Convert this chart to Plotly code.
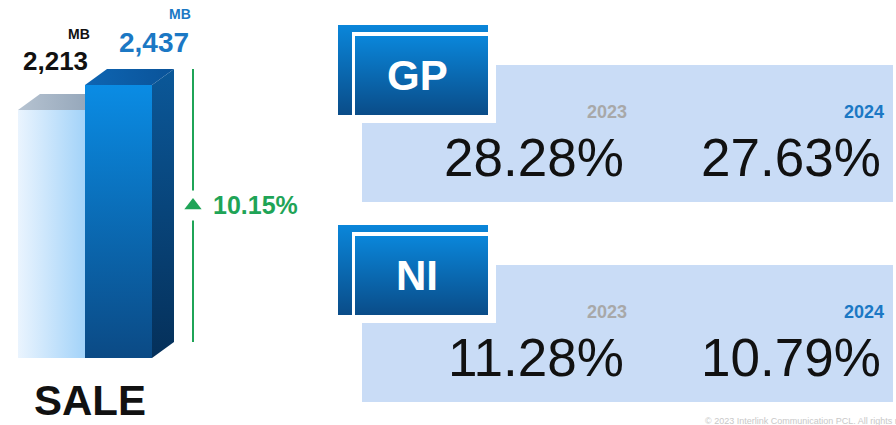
import plotly.graph_objects as go

# ---------------- data ----------------
years = ["2023", "2024"]
sale_mb = [2213, 2437]
sale_growth_pct = 10.15
metric_names = ["GP", "NI"]
gp_margin_pct = [28.28, 27.63]
ni_margin_pct = [11.28, 10.79]
unit_label = "MB"
sale_label = "SALE"
copyright_text = "© 2023 Interlink Communication PCL. All rights reserved."

metric_values = [gp_margin_pct, ni_margin_pct]

# ---------------- layout constants ----------------
W, H = 896, 425
BASE_PX = 358            # pixel row of the bar baseline
PX_PER_MB = 273 / 2437   # vertical scale
BAR_PX = 67              # bar width in px
LEFT_PX = 18             # left edge of first bar
DEPTH_X_PX, DEPTH_Y_PX = 22, 16

FONT = "Arial, Liberation Sans, Helvetica, sans-serif"
GREEN = "#1fa457"
BLUE_TXT = "#1b78c4"
PANEL = "#c9dcf6"

xr = [-LEFT_PX / BAR_PX, (W - LEFT_PX) / BAR_PX]
yr = [-(H - BASE_PX) / PX_PER_MB, BASE_PX / PX_PER_MB]
dx = DEPTH_X_PX / BAR_PX
dy = DEPTH_Y_PX / PX_PER_MB

bar_styles = [
    dict(front=("horizontal", ["#eaf4fe", "#a3d3f9"]),
         top=("horizontal", ["#b6c3d1", "#8c9fb4"]),
         side=("vertical", ["#8cc3ee", "#a9d5f8"])),
    dict(front=("vertical", ["#0b4a85", "#0a8ce4"]),
         top=("horizontal", ["#0e65b2", "#0a5399"]),
         side=("vertical", ["#05305a", "#0b5899"])),
]

fig = go.Figure()


def poly(xs, ys, grad, xa="x", ya="y", start=None, stop=None):
    g = dict(type=grad[0], colorscale=[[0, grad[1][0]], [1, grad[1][1]]])
    if start is not None:
        g["start"] = start
        g["stop"] = stop
    fig.add_trace(go.Scatter(
        x=xs + [xs[0]], y=ys + [ys[0]], mode="lines", fill="toself",
        line=dict(width=0), fillgradient=g, hoverinfo="skip",
        showlegend=False, xaxis=xa, yaxis=ya))


# ---------------- 3D bars (data axes) ----------------
for i, (v, st) in enumerate(zip(sale_mb, bar_styles)):
    poly([i, i + 1, i + 1, i], [0, 0, v, v], st["front"])
    poly([i, i + dx, i + 1 + dx, i + 1], [v, v + dy, v + dy, v], st["top"])
    poly([i + 1, i + 1 + dx, i + 1 + dx, i + 1], [0, dy, v + dy, v], st["side"])

# growth indicator line
n = len(sale_mb)
x_line = n + dx + 19 / BAR_PX
y_lo, y_hi = dy, sale_mb[-1] + dy
mid = (y_lo + y_hi) / 2
gap = 15 / PX_PER_MB
fig.add_trace(go.Scatter(
    x=[x_line, x_line, None, x_line, x_line],
    y=[y_lo, mid - gap, None, mid + gap, y_hi],
    mode="lines", line=dict(color=GREEN, width=2),
    hoverinfo="skip", showlegend=False))
fig.add_trace(go.Scatter(
    x=[x_line], y=[mid], mode="markers",
    marker=dict(symbol="triangle-up", size=15, color=GREEN),
    hoverinfo="skip", showlegend=False))

annotations = []
annotations.append(dict(
    x=x_line, y=mid, xref="x", yref="y", xanchor="left", yanchor="middle",
    xshift=18, yshift=1, text=f"<b>{sale_growth_pct:.2f}%</b>",
    showarrow=False, font=dict(family=FONT, size=25, color=GREEN)))

# value labels above bars
label_cfg = [
    dict(color="#111111", size=26, xs=37, ys=33, mbx=39, mby=60),
    dict(color=BLUE_TXT, size=28, xs=69, ys=27, mbx=73, mby=55),
]
for i, (v, cfg) in enumerate(zip(sale_mb, label_cfg)):
    annotations.append(dict(
        x=i, y=v + dy, xref="x", yref="y", xanchor="center", yanchor="middle",
        xshift=cfg["xs"], yshift=cfg["ys"], text=f"<b>{v:,}</b>",
        showarrow=False, font=dict(family=FONT, size=cfg["size"], color=cfg["color"])))
    annotations.append(dict(
        x=i, y=v + dy, xref="x", yref="y", xanchor="center", yanchor="middle",
        xshift=cfg["mbx"] + 22, yshift=cfg["mby"], text=f"<b>{unit_label}</b>",
        showarrow=False, font=dict(family=FONT, size=14, color=cfg["color"])))

annotations.append(dict(
    x=1, y=0, xref="x", yref="y", xanchor="center", yanchor="middle",
    xshift=5, yshift=-42, text=f"<b>{sale_label}</b>", showarrow=False,
    font=dict(family=FONT, size=42, color="#111111")))

# ---------------- metric panels (pixel axes x2/y2) ----------------
panel_tops = [25, 225]
shapes = []
HEAD_GRAD = ("vertical", ["#0a86da", "#0a4c88"])
for name, vals, T in zip(metric_names, metric_values, panel_tops):
    shapes.append(dict(type="rect", xref="x2", yref="y2", x0=362, x1=893,
                       y0=T + 40, y1=T + 177, fillcolor=PANEL, line=dict(width=0),
                       layer="below"))
    # white frame + back box + white gap + front box
    fig.add_trace(go.Scatter(x=[338, 496, 496, 338, 338], y=[T, T, T + 98, T + 98, T],
                             mode="lines", fill="toself", fillcolor="white",
                             line=dict(width=0), hoverinfo="skip", showlegend=False,
                             xaxis="x2", yaxis="y2"))
    poly([338, 488, 488, 338], [T, T, T + 90, T + 90], HEAD_GRAD, "x2", "y2", T, T + 90)
    fig.add_trace(go.Scatter(x=[352, 488, 488, 352, 352], y=[T + 7, T + 7, T + 90, T + 90, T + 7],
                             mode="lines", fill="toself", fillcolor="white",
                             line=dict(width=0), hoverinfo="skip", showlegend=False,
                             xaxis="x2", yaxis="y2"))
    poly([355, 488, 488, 355], [T + 11, T + 11, T + 90, T + 90], HEAD_GRAD, "x2", "y2", T + 11, T + 90)

    annotations.append(dict(x=417, y=T + 50, xref="x2", yref="y2", xanchor="center",
                            yanchor="middle", text=f"<b>{name}</b>", showarrow=False,
                            font=dict(family=FONT, size=42, color="white")))
    year_right = [629, 886]
    val_right = [626, 883]
    year_colors = ["#a8a8a8", BLUE_TXT]
    for yr_lbl, v, xr_y, xr_v, yc in zip(years, vals, year_right, val_right, year_colors):
        annotations.append(dict(x=xr_y, y=T + 87, xref="x2", yref="y2", xanchor="right",
                                yanchor="middle", text=f"<b>{yr_lbl}</b>", showarrow=False,
                                font=dict(family=FONT, size=18, color=yc)))
        annotations.append(dict(x=xr_v, y=T + 132, xref="x2", yref="y2", xanchor="right",
                                yanchor="middle", text=f"{v:.2f}%", showarrow=False,
                                font=dict(family=FONT, size=53, color="#111111")))

annotations.append(dict(x=703, y=421, xref="x2", yref="y2", xanchor="left",
                        yanchor="middle", text=copyright_text, showarrow=False,
                        font=dict(family=FONT, size=9, color="#c8c8c8")))

hidden = dict(visible=False, showgrid=False, zeroline=False, fixedrange=True)
fig.update_layout(
    width=W, height=H, margin=dict(l=0, r=0, t=0, b=0),
    paper_bgcolor="white", plot_bgcolor="white", showlegend=False,
    xaxis=dict(range=xr, domain=[0, 1], **hidden),
    yaxis=dict(range=yr, domain=[0, 1], **hidden),
    xaxis2=dict(range=[0, W], domain=[0, 1], overlaying="x", **hidden),
    yaxis2=dict(range=[H, 0], domain=[0, 1], overlaying="y", **hidden),
    shapes=shapes, annotations=annotations,
)

fig.write_html(
    "out.html",
    config={"displayModeBar": False, "staticPlot": True},
    post_script="document.body.style.margin='0px';document.body.style.overflow='hidden';",
)
